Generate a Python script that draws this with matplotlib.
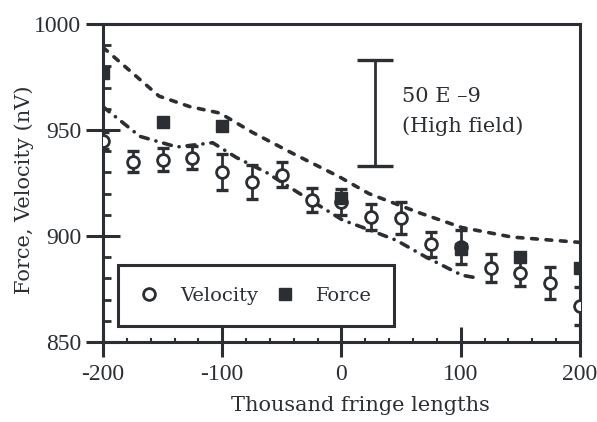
import matplotlib
matplotlib.use('Agg')
import matplotlib.pyplot as plt
from matplotlib.ticker import MultipleLocator

plt.rcParams.update({'font.family': 'DejaVu Serif', 'axes.unicode_minus': False})

INK = '#2b2f33'

# velocity points with error bars
vel_x = [-200, -175, -150, -125, -100, -75, -50, -25, 0, 25, 50, 75, 100, 125, 150, 175, 200]
vel_y = [945, 935, 936, 937, 930, 925.5, 929, 917, 916, 909, 908.5, 896, 895, 885, 882.5, 878, 867]
vel_err = [4, 5, 5.5, 5.5, 8.5, 8, 6, 5.5, 6, 6, 7.5, 6, 8, 6.5, 6, 7.5, 9]

# force points
force_x = [-200, -150, -100, 0, 100, 150, 200]
force_y = [977, 954, 952, 918, 894, 890, 885]

# dashed envelope curves
upper_x = [-200, -153, -127, -102, -75, -41, -2, 23, 65, 101, 143, 200]
upper_y = [989, 966, 961, 958, 949, 939, 928, 920, 911, 904, 899.5, 897]
lower_x = [-200, -169, -138, -108, -88, -63, -35, 1, 18, 46, 71, 101, 116]
lower_y = [961, 947, 942, 944, 937, 930, 920, 907.5, 904, 898, 890, 881.5, 880]

# scale bar
bar_x = 28
bar_lo, bar_hi = 933, 983

fig = plt.figure(figsize=(5.97, 4.22), dpi=100, facecolor='white')
ax = fig.add_axes([0.1725, 0.1896, 0.799, 0.7534])

ax.plot(upper_x, upper_y, color=INK, lw=2.6, ls=(0, (1.6, 2.4)), dash_capstyle='round')
ax.plot(lower_x, lower_y, color=INK, lw=2.6, ls=(0, (2.2, 2.2, 0.05, 2.2)),
        dash_capstyle='round')

ax.errorbar(vel_x, vel_y, yerr=vel_err, fmt='none', ecolor=INK, elinewidth=2,
            capsize=4.5, capthick=2.4, zorder=3)
ax.plot(vel_x, vel_y, 'o', ms=8.5, mfc='white', mec=INK, mew=2, ls='none',
        label='Velocity', zorder=4)
ax.plot(force_x, force_y, 's', ms=8.5, mfc=INK, mec=INK, ls='none',
        label='Force', zorder=5)

ax.errorbar([bar_x], [(bar_lo + bar_hi) / 2], yerr=[(bar_hi - bar_lo) / 2],
            fmt='none', ecolor=INK, elinewidth=2, capsize=13, capthick=2.4)
ax.text(51, 966, '50 E \u20139', fontsize=15, color=INK, va='center', ha='left')
ax.text(51, 952, '(High field)', fontsize=15, color=INK, va='center', ha='left')

ax.set_xlim(-200, 200)
ax.set_ylim(850, 1000)
ax.xaxis.set_major_locator(MultipleLocator(100))
ax.xaxis.set_minor_locator(MultipleLocator(20))
ax.yaxis.set_major_locator(MultipleLocator(50))
ax.yaxis.set_minor_locator(MultipleLocator(10))

for s in ax.spines.values():
    s.set_linewidth(2.2)
    s.set_color(INK)

ax.tick_params(axis='y', which='major', direction='inout', length=25, width=2.2,
               color=INK, labelcolor=INK, pad=3, labelsize=17,
               labelfontfamily='Liberation Serif')
ax.tick_params(axis='y', which='minor', direction='in', length=6, width=2, color=INK)
ax.tick_params(axis='x', which='major', direction='inout', length=21, width=2.2,
               color=INK, labelcolor=INK, pad=5, labelsize=17,
               labelfontfamily='Liberation Serif')
ax.tick_params(axis='x', which='minor', direction='in', length=3, width=1.5, color=INK)

ax.set_xlabel('Thousand fringe lengths', fontsize=15, color=INK)
ax.set_ylabel('Force, Velocity (nV)', fontsize=15, color=INK)
ax.xaxis.set_label_coords(0.54, -0.17)
ax.yaxis.set_label_coords(-0.145, 0.48)

leg = ax.legend(loc='lower left', bbox_to_anchor=(0.031, 0.05), ncol=2,
                fontsize=14, frameon=True, fancybox=False, borderpad=1.1,
                handlelength=1, handletextpad=1.1, columnspacing=0.9,
                borderaxespad=0)
leg.get_frame().set_edgecolor(INK)
leg.get_frame().set_linewidth(2.2)
leg.get_frame().set_alpha(1)
for t in leg.get_texts():
    t.set_color(INK)

fig.savefig('out.png', dpi=100, facecolor='white')
